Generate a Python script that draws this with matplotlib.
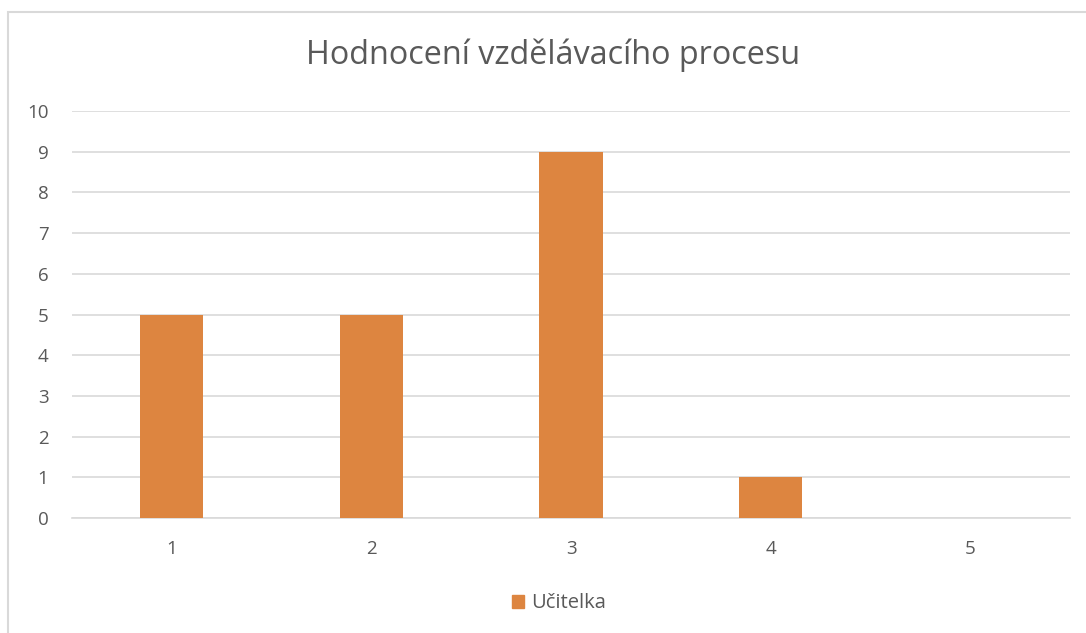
import matplotlib.pyplot as plt
from matplotlib.patches import Rectangle, Patch

categories = ['1', '2', '3', '4', '5']
values = [5, 5, 9, 1, 0]
series_name = 'Učitelka'
title = 'Hodnocení vzdělávacího procesu'

plt.rcParams['font.family'] = ['Open Sans', 'DejaVu Sans']

fig = plt.figure(figsize=(10.86, 6.33), dpi=100)
ax = fig.add_axes([0.0663, 0.1817, 0.919, 0.6429])

bar_color = '#dd8540'
grid_color = '#d9d9d9'
text_color = '#595959'

ax.bar(range(len(categories)), values, width=0.316, color=bar_color, zorder=3)
ax.set_xlim(-0.5, len(categories) - 0.5)
ax.set_ylim(0, 10)
ax.set_yticks(range(0, 11))
ax.set_xticks(range(len(categories)))
ax.set_xticklabels(categories)

ax.grid(axis='y', color=grid_color, linewidth=1.2, zorder=0)
for s in ['top', 'right', 'left']:
    ax.spines[s].set_visible(False)
ax.spines['bottom'].set_color(grid_color)
ax.spines['bottom'].set_linewidth(1.2)
ax.tick_params(axis='both', length=0, labelsize=13.5, colors=text_color)
ax.tick_params(axis='y', pad=17)
ax.tick_params(axis='x', pad=16)

fig.text(0.509, 0.912, title, ha='center', va='center', fontsize=23.3, color=text_color)

leg = fig.legend(handles=[Patch(color=bar_color, label=series_name)],
                 loc='center', bbox_to_anchor=(0.515, 0.047), frameon=False,
                 fontsize=14.5, handlelength=0.6, handleheight=0.6, handletextpad=0.35)
for t in leg.get_texts():
    t.set_color(text_color)

# chart border
fig.patches.append(Rectangle((8 / 1086, -0.1), 1.2, 1 - 12 / 633 + 0.1,
                             transform=fig.transFigure, fill=False,
                             edgecolor=grid_color, linewidth=1.5))

fig.savefig('out.png', dpi=100)
